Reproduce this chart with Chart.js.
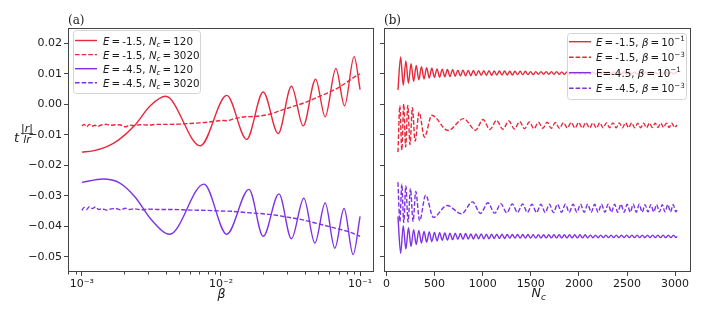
<!DOCTYPE html>
<html>
<head>
<meta charset="utf-8">
<script src="https://cdn.jsdelivr.net/npm/chart.js@4.4.0/dist/chart.umd.min.js"></script>
<style>
  html, body { margin: 0; padding: 0; background: #fff; }
  #wrap { position: relative; width: 706px; height: 316px; }
  canvas { position: absolute; top: 0; }
  #ca { left: 0; }
  #cb { left: 380px; }
</style>
</head>
<body>
<div id="wrap">
  <canvas id="ca" width="380" height="316"></canvas>
  <canvas id="cb" width="326" height="316"></canvas>
</div>
<script>
// ---- panel (a): value against beta, log axis ----
const betaSolidRed = [1.0e-3, 1.2e-3, 1.5e-3, 1.85e-3, 2.4e-3, 3.1e-3, 4.0e-3, 7.1e-3, 1.10e-2, 1.53e-2,
  2.01e-2, 2.58e-2, 3.21e-2, 3.90e-2, 4.79e-2, 5.61e-2, 6.70e-2, 7.73e-2, 9.06e-2, 1.0e-1];
const valSolidRed = [-0.0157, -0.0153, -0.0140, -0.0116, -0.0069, -0.0005, 0.0026, -0.0136, 0.0029, -0.0115,
  0.0040, -0.0096, 0.0059, -0.0071, 0.0082, -0.0041, 0.0117, -0.0005, 0.0156, 0.0048];

const betaDashRed = [1.00e-3, 1.04e-3, 1.08e-3, 1.13e-3, 1.18e-3, 1.24e-3, 1.30e-3, 1.38e-3, 1.50e-3, 1.62e-3,
  1.75e-3, 1.90e-3, 2.05e-3, 2.2e-3, 2.4e-3, 2.6e-3, 3.0e-3, 3.5e-3, 4.2e-3, 5.0e-3,
  6.0e-3, 7.0e-3, 8.0e-3, 9.0e-3, 1.0e-2, 1.1e-2, 1.25e-2, 1.45e-2, 1.7e-2, 2.0e-2,
  2.3e-2, 2.7e-2, 3.2e-2, 3.7e-2, 4.3e-2, 5.0e-2, 5.7e-2, 6.5e-2, 7.3e-2, 8.2e-2,
  9.0e-2, 1.0e-1];
const valDashRed = [-0.0071, -0.0066, -0.0074, -0.0066, -0.0072, -0.0069, -0.0073, -0.0068, -0.0066, -0.0069,
  -0.0067, -0.0068, -0.0074, -0.0069, -0.0070, -0.0067, -0.0068, -0.0066, -0.0066, -0.0065,
  -0.0063, -0.0061, -0.0059, -0.0056, -0.0053, -0.0054, -0.0047, -0.0042, -0.0040, -0.0037,
  -0.0031, -0.0020, -0.0009, 0.0000, 0.0011, 0.0024, 0.0035, 0.0047, 0.0060, 0.0075,
  0.0088, 0.0100];

const betaSolidPurple = [1.0e-3, 1.42e-3, 1.85e-3, 2.4e-3, 3.16e-3, 4.28e-3, 7.55e-3, 1.10e-2, 1.59e-2, 2.01e-2,
  2.61e-2, 3.21e-2, 3.94e-2, 4.73e-2, 5.61e-2, 6.58e-2, 7.67e-2, 8.91e-2, 1.0e-1];
const valSolidPurple = [-0.0256, -0.0245, -0.0257, -0.0303, -0.0379, -0.0426, -0.0262, -0.0426, -0.0279, -0.0433,
  -0.0294, -0.0441, -0.0308, -0.0455, -0.0324, -0.0472, -0.0342, -0.0493, -0.0368];

const betaDashPurple = [1.00e-3, 1.04e-3, 1.08e-3, 1.13e-3, 1.19e-3, 1.25e-3, 1.32e-3, 1.40e-3, 1.50e-3, 1.62e-3,
  1.75e-3, 1.9e-3, 2.05e-3, 2.2e-3, 2.4e-3, 2.7e-3, 3.0e-3, 3.5e-3, 4.5e-3, 6.0e-3,
  8.0e-3, 1.0e-2, 1.2e-2, 1.5e-2, 2.0e-2, 2.5e-2, 3.0e-2, 3.6e-2, 4.3e-2, 5.0e-2,
  6.0e-2, 7.0e-2, 8.0e-2, 9.0e-2, 1.0e-1];
const valDashPurple = [-0.0348, -0.0338, -0.0345, -0.0336, -0.0342, -0.0337, -0.0345, -0.0343, -0.0347, -0.0343,
  -0.0342, -0.0346, -0.0341, -0.0345, -0.0343, -0.0346, -0.0344, -0.0345, -0.0345, -0.0347,
  -0.0348, -0.0350, -0.0351, -0.0355, -0.0359, -0.0364, -0.0370, -0.0376, -0.0384, -0.0392,
  -0.0401, -0.0409, -0.0416, -0.0424, -0.0433];

// ---- panel (b): value against N_c ----
const nSolid = [120, 148, 175, 202, 229, 256, 283, 310, 337, 364,
  391, 418, 445, 472, 499, 526, 553, 580, 607, 634,
  661, 688, 715, 742, 769, 796, 823, 850, 877, 904,
  931, 958, 985, 1012, 1039, 1066, 1093, 1120, 1147, 1174,
  1201, 1228, 1255, 1282, 1309, 1336, 1363, 1390, 1417, 1444,
  1471, 1498, 1525, 1552, 1579, 1606, 1633, 1660, 1687, 1714,
  1741, 1768, 1795, 1822, 1849, 1876, 1903, 1930, 1957, 1984,
  2011, 2038, 2065, 2092, 2119, 2146, 2173, 2200, 2227, 2254,
  2281, 2308, 2335, 2362, 2389, 2416, 2443, 2470, 2497, 2524,
  2551, 2578, 2605, 2632, 2659, 2686, 2713, 2740, 2767, 2794,
  2821, 2848, 2875, 2902, 2929, 2956, 2983, 3010, 3020];
const valNRedHi = [0.0047, 0.0155, 0.0062, 0.0142, 0.0069, 0.0133, 0.0075, 0.0127, 0.0080, 0.0123,
  0.0083, 0.0120, 0.0086, 0.0118, 0.0088, 0.0116, 0.0089, 0.0115, 0.0090, 0.0114,
  0.0091, 0.0113, 0.0092, 0.0112, 0.0093, 0.0112, 0.0093, 0.0111, 0.0094, 0.0111,
  0.0094, 0.0110, 0.0095, 0.0110, 0.0095, 0.0110, 0.0095, 0.0109, 0.0096, 0.0109,
  0.0096, 0.0109, 0.0096, 0.0108, 0.0096, 0.0108, 0.0097, 0.0108, 0.0097, 0.0108,
  0.0097, 0.0107, 0.0097, 0.0107, 0.0098, 0.0107, 0.0098, 0.0107, 0.0098, 0.0107,
  0.0098, 0.0107, 0.0098, 0.0106, 0.0098, 0.0106, 0.0098, 0.0106, 0.0098, 0.0106,
  0.0098, 0.0106, 0.0098, 0.0106, 0.0098, 0.0106, 0.0098, 0.0106, 0.0099, 0.0106,
  0.0099, 0.0106, 0.0099, 0.0106, 0.0099, 0.0106, 0.0099, 0.0106, 0.0099, 0.0106,
  0.0099, 0.0105, 0.0099, 0.0105, 0.0099, 0.0105, 0.0099, 0.0105, 0.0099, 0.0105,
  0.0099, 0.0105, 0.0099, 0.0105, 0.0099, 0.0105, 0.0099, 0.0105, 0.0101];
const valNPurpleHi = [-0.0368, -0.0489, -0.0398, -0.0475, -0.0405, -0.0466, -0.0411, -0.0460, -0.0414, -0.0455,
  -0.0417, -0.0452, -0.0419, -0.0450, -0.0420, -0.0448, -0.0421, -0.0446, -0.0422, -0.0445,
  -0.0423, -0.0444, -0.0423, -0.0443, -0.0424, -0.0443, -0.0424, -0.0442, -0.0425, -0.0442,
  -0.0425, -0.0441, -0.0425, -0.0441, -0.0426, -0.0441, -0.0426, -0.0440, -0.0426, -0.0440,
  -0.0426, -0.0440, -0.0427, -0.0439, -0.0427, -0.0439, -0.0427, -0.0439, -0.0427, -0.0439,
  -0.0427, -0.0439, -0.0428, -0.0439, -0.0428, -0.0438, -0.0428, -0.0438, -0.0428, -0.0438,
  -0.0428, -0.0438, -0.0428, -0.0438, -0.0428, -0.0438, -0.0428, -0.0438, -0.0428, -0.0438,
  -0.0428, -0.0438, -0.0428, -0.0438, -0.0429, -0.0438, -0.0429, -0.0438, -0.0429, -0.0437,
  -0.0429, -0.0437, -0.0429, -0.0437, -0.0429, -0.0437, -0.0429, -0.0437, -0.0429, -0.0437,
  -0.0429, -0.0437, -0.0429, -0.0437, -0.0429, -0.0437, -0.0429, -0.0437, -0.0429, -0.0437,
  -0.0429, -0.0437, -0.0429, -0.0437, -0.0429, -0.0437, -0.0429, -0.0437, -0.0433];

const nDashRed = [120, 140, 160, 180, 200, 222, 245, 270, 298, 340,
  395, 472, 640, 803, 925, 1005, 1075, 1145, 1210, 1272,
  1330, 1385, 1435, 1485, 1533, 1580, 1625, 1670, 1713, 1756,
  1798, 1840, 1880, 1920, 1960, 1998, 2036, 2073, 2110, 2146,
  2182, 2217, 2252, 2286, 2320, 2354, 2387, 2420, 2453, 2485,
  2517, 2549, 2580, 2611, 2642, 2673, 2703, 2733, 2763, 2793,
  2822, 2851, 2880, 2909, 2938, 2966, 2994, 3020];
const valNRedLo = [-0.0157, -0.0005, -0.0150, 0.0001, -0.0140, -0.0004, -0.0132, -0.0011, -0.0121, -0.0026,
  -0.0108, -0.0036, -0.0086, -0.0047, -0.0085, -0.0050, -0.0083, -0.0053, -0.0082, -0.0055,
  -0.0081, -0.0057, -0.0080, -0.0058, -0.0080, -0.0059, -0.0079, -0.0059, -0.0079, -0.0060,
  -0.0079, -0.0060, -0.0078, -0.0060, -0.0078, -0.0060, -0.0078, -0.0060, -0.0078, -0.0061,
  -0.0078, -0.0061, -0.0077, -0.0061, -0.0077, -0.0061, -0.0077, -0.0061, -0.0077, -0.0061,
  -0.0077, -0.0061, -0.0077, -0.0062, -0.0077, -0.0062, -0.0077, -0.0062, -0.0076, -0.0062,
  -0.0076, -0.0062, -0.0076, -0.0062, -0.0076, -0.0062, -0.0076, -0.0068];

const nDashPurple = [120, 140, 160, 180, 202, 225, 250, 277, 305, 345,
  408, 488, 630, 780, 895, 978, 1055, 1125, 1190, 1250,
  1308, 1362, 1415, 1465, 1513, 1560, 1605, 1650, 1693, 1736,
  1778, 1820, 1860, 1900, 1940, 1979, 2017, 2055, 2092, 2128,
  2164, 2200, 2235, 2270, 2304, 2338, 2371, 2404, 2437, 2470,
  2502, 2534, 2565, 2596, 2627, 2658, 2688, 2718, 2748, 2778,
  2808, 2837, 2866, 2895, 2924, 2952, 2980, 3008, 3020];
const valNPurpleLo = [-0.0256, -0.0385, -0.0262, -0.0388, -0.0268, -0.0386, -0.0276, -0.0384, -0.0286, -0.0382,
  -0.0298, -0.0371, -0.0332, -0.0359, -0.0320, -0.0358, -0.0323, -0.0357, -0.0326, -0.0356,
  -0.0327, -0.0355, -0.0327, -0.0355, -0.0328, -0.0355, -0.0328, -0.0355, -0.0328, -0.0355,
  -0.0328, -0.0354, -0.0328, -0.0354, -0.0328, -0.0354, -0.0328, -0.0354, -0.0328, -0.0354,
  -0.0328, -0.0354, -0.0328, -0.0354, -0.0328, -0.0354, -0.0328, -0.0354, -0.0328, -0.0354,
  -0.0328, -0.0354, -0.0328, -0.0354, -0.0328, -0.0354, -0.0329, -0.0353, -0.0329, -0.0353,
  -0.0329, -0.0353, -0.0329, -0.0353, -0.0329, -0.0353, -0.0329, -0.0353, -0.0345];

// ---- ticks ----
const yTicks = [-0.05, -0.04, -0.03, -0.02, -0.01, 0.00, 0.01, 0.02];
const betaTicks = [1e-3, 1e-2, 1e-1];
const betaTickLabels = ['10\u207B\u00B3', '10\u207B\u00B2', '10\u207B\u00B9'];
const betaMinorTicks = [8e-4, 9e-4, 2e-3, 3e-3, 4e-3, 5e-3, 6e-3, 7e-3, 8e-3, 9e-3,
  2e-2, 3e-2, 4e-2, 5e-2, 6e-2, 7e-2, 8e-2, 9e-2];
const nTicks = [0, 500, 1000, 1500, 2000, 2500, 3000];

const red = '#e8283c';
const purple = '#7e32e4';
const frame = '#444';
const txt = '#1a1a1a';
const FONT = '"DejaVu Sans", sans-serif';

Chart.defaults.font.family = FONT;
Chart.defaults.font.size = 11;
Chart.defaults.color = txt;

function pts(xs, ys) { return xs.map((x, i) => ({ x: x, y: ys[i] })); }
function series(xs, ys, color, dashed, order) {
  return {
    data: pts(xs, ys), borderColor: color, borderWidth: 1.4,
    borderDash: dashed ? [4.6, 2] : [], pointRadius: 0, fill: false,
    cubicInterpolationMode: 'monotone', order: order
  };
}
function fmtY(v) {
  const r = Math.round(v * 100) / 100;
  return (r < 0 ? '\u2212' : '') + Math.abs(r).toFixed(2);
}

function drawRich(ctx, x, y, segs, size) {
  for (const s of segs) {
    const small = s.sub || s.sup;
    const fs = small ? size * 0.7 : size;
    ctx.font = (s.it ? 'italic ' : '') + fs + 'px ' + FONT;
    const dy = s.sub ? size * 0.22 : (s.sup ? -size * 0.42 : 0);
    ctx.fillText(s.t, x, y + dy);
    x += ctx.measureText(s.t).width;
  }
  return x;
}

function drawLegend(ctx, box, rows) {
  ctx.save();
  ctx.beginPath();
  ctx.roundRect(box.x + 0.5, box.y + 0.5, box.w, box.h, 3);
  ctx.fillStyle = 'rgba(255,255,255,0.8)';
  ctx.fill();
  ctx.strokeStyle = '#d4d4d4';
  ctx.lineWidth = 1;
  ctx.stroke();
  rows.forEach((r, i) => {
    const cy = box.rowY + i * box.step;
    ctx.beginPath();
    ctx.strokeStyle = r.color;
    ctx.lineWidth = 1.4;
    ctx.setLineDash(r.dash ? [4.6, 2] : []);
    ctx.moveTo(box.lx0, cy);
    ctx.lineTo(box.lx1, cy);
    ctx.stroke();
    ctx.setLineDash([]);
    ctx.fillStyle = txt;
    ctx.textBaseline = 'alphabetic';
    ctx.textAlign = 'left';
    drawRich(ctx, box.tx, cy + 4, r.segs, 10.3);
  });
  ctx.restore();
}

function drawFrame(chart) {
  const { ctx, chartArea: a } = chart;
  ctx.save();
  ctx.strokeStyle = frame;
  ctx.lineWidth = 1;
  ctx.strokeRect(Math.round(a.left) + 0.5, Math.round(a.top) + 0.5,
    Math.round(a.right - a.left) - 1, Math.round(a.bottom - a.top) - 1);
  ctx.restore();
}

const sp = '\u2009';
const legendA = [
  { color: red, dash: false, segs: [{ t: 'E', it: 1 }, { t: sp + '=' + sp + '-1.5, ' }, { t: 'N', it: 1 }, { t: 'c', it: 1, sub: 1 }, { t: sp + '=' + sp + '120' }] },
  { color: red, dash: true, segs: [{ t: 'E', it: 1 }, { t: sp + '=' + sp + '-1.5, ' }, { t: 'N', it: 1 }, { t: 'c', it: 1, sub: 1 }, { t: sp + '=' + sp + '3020' }] },
  { color: purple, dash: false, segs: [{ t: 'E', it: 1 }, { t: sp + '=' + sp + '-4.5, ' }, { t: 'N', it: 1 }, { t: 'c', it: 1, sub: 1 }, { t: sp + '=' + sp + '120' }] },
  { color: purple, dash: true, segs: [{ t: 'E', it: 1 }, { t: sp + '=' + sp + '-4.5, ' }, { t: 'N', it: 1 }, { t: 'c', it: 1, sub: 1 }, { t: sp + '=' + sp + '3020' }] }
];
const legendB = [
  { color: red, dash: false, segs: [{ t: 'E', it: 1 }, { t: sp + '=' + sp + '-1.5, ' }, { t: '\u03B2', it: 1 }, { t: sp + '=' + sp + '10' }, { t: '\u22121', sup: 1 }] },
  { color: red, dash: true, segs: [{ t: 'E', it: 1 }, { t: sp + '=' + sp + '-1.5, ' }, { t: '\u03B2', it: 1 }, { t: sp + '=' + sp + '10' }, { t: '\u22123', sup: 1 }] },
  { color: purple, dash: false, segs: [{ t: 'E=-4.5, ' }, { t: '\u03B2', it: 1 }, { t: sp + '=' + sp + '10' }, { t: '\u22121', sup: 1 }] },
  { color: purple, dash: true, segs: [{ t: 'E', it: 1 }, { t: sp + '=' + sp + '-4.5, ' }, { t: '\u03B2', it: 1 }, { t: sp + '=' + sp + '10' }, { t: '\u22123', sup: 1 }] }
];

function yScale(showLabels, width) {
  return {
    type: 'linear', min: -0.055, max: 0.025,
    afterBuildTicks: s => { s.ticks = yTicks.map(v => ({ value: v })); },
    afterFit: s => { s.width = width; },
    grid: { drawOnChartArea: false, drawTicks: true, tickLength: 4, color: frame, tickColor: frame },
    border: { display: false },
    ticks: { callback: v => showLabels ? fmtY(v) : '', padding: 2, color: txt, font: { size: 11 } }
  };
}

// panel (a)
new Chart(document.getElementById('ca'), {
  type: 'line',
  data: {
    datasets: [
      series(betaSolidRed, valSolidRed, red, false, 3),
      series(betaDashRed, valDashRed, red, true, 2),
      series(betaSolidPurple, valSolidPurple, purple, false, 1),
      series(betaDashPurple, valDashPurple, purple, true, 0)
    ]
  },
  options: {
    responsive: false, animation: false, devicePixelRatio: 1,
    layout: { padding: { left: 0, top: 28, right: 6, bottom: 0 } },
    plugins: { legend: { display: false }, tooltip: { enabled: false } },
    scales: {
      x: {
        type: 'logarithmic', min: 7.943e-4, max: 0.1259,
        afterBuildTicks: s => { s.ticks = betaTicks.map(v => ({ value: v })); },
        afterFit: s => { s.height = 44; },
        grid: { drawOnChartArea: false, drawTicks: true, tickLength: 4, color: frame, tickColor: frame },
        border: { display: false },
        ticks: { autoSkip: false, maxRotation: 0, padding: 2, color: txt, font: { size: 11 },
          callback: (v, i) => betaTickLabels[i] }
      },
      y: yScale(true, 68)
    }
  },
  plugins: [{
    id: 'decorA',
    afterDraw(chart) {
      const { ctx, chartArea: a } = chart;
      drawFrame(chart);
      const xs = chart.scales.x;
      ctx.save();
      ctx.strokeStyle = frame;
      ctx.lineWidth = 1;
      betaMinorTicks.forEach(v => {
        const px = Math.round(xs.getPixelForValue(v)) + 0.5;
        ctx.beginPath();
        ctx.moveTo(px, a.bottom);
        ctx.lineTo(px, a.bottom + 2.5);
        ctx.stroke();
      });
      ctx.fillStyle = txt;
      ctx.font = '12px "DejaVu Serif", serif';
      ctx.textAlign = 'left';
      ctx.fillText('(a)', 68, 24);
      // x title
      ctx.font = 'italic 12.5px ' + FONT;
      ctx.textAlign = 'center';
      ctx.fillText('\u03B2', (a.left + a.right) / 2 + 0.5, 298);
      // y title: t |r| / lr
      ctx.textAlign = 'left';
      ctx.font = 'italic 13px ' + FONT;
      ctx.fillText('t', 14, 142);
      ctx.textAlign = 'center';
      ctx.font = 'italic 11px ' + FONT;
      ctx.fillText('|r|', 27, 131.5);
      ctx.fillText('lr', 27, 142.5);
      ctx.beginPath();
      ctx.lineWidth = 0.9;
      ctx.moveTo(21, 133.5);
      ctx.lineTo(33, 133.5);
      ctx.stroke();
      ctx.restore();
      drawLegend(ctx, { x: 73, y: 30, w: 127, h: 63, rowY: 40.5, step: 14.1, lx0: 75, lx1: 97, tx: 103 }, legendA);
    }
  }]
});

// panel (b)
new Chart(document.getElementById('cb'), {
  type: 'line',
  data: {
    datasets: [
      series(nSolid, valNRedHi, red, false, 3),
      series(nDashRed, valNRedLo, red, true, 2),
      series(nSolid, valNPurpleHi, purple, false, 1),
      series(nDashPurple, valNPurpleLo, purple, true, 0)
    ]
  },
  options: {
    responsive: false, animation: false, devicePixelRatio: 1,
    layout: { padding: { left: 0, top: 28, right: 15, bottom: 0 } },
    plugins: { legend: { display: false }, tooltip: { enabled: false } },
    scales: {
      x: {
        type: 'linear', min: -25, max: 3165,
        afterBuildTicks: s => { s.ticks = nTicks.map(v => ({ value: v })); },
        afterFit: s => { s.height = 44; },
        grid: { drawOnChartArea: false, drawTicks: true, tickLength: 4, color: frame, tickColor: frame },
        border: { display: false },
        ticks: { autoSkip: false, maxRotation: 0, padding: 2, color: txt, font: { size: 11 },
          callback: v => String(v) }
      },
      y: yScale(false, 4)
    }
  },
  plugins: [{
    id: 'decorB',
    afterDraw(chart) {
      const { ctx, chartArea: a } = chart;
      drawFrame(chart);
      ctx.save();
      ctx.fillStyle = txt;
      ctx.font = '12px "DejaVu Serif", serif';
      ctx.textAlign = 'left';
      ctx.fillText('(b)', 4, 24);
      ctx.font = 'italic 12.5px ' + FONT;
      const cx = (a.left + a.right) / 2;
      ctx.fillText('N', cx - 6, 297);
      ctx.font = 'italic 9px ' + FONT;
      ctx.fillText('c', cx + 3.5, 300);
      ctx.restore();
      drawLegend(ctx, { x: 187, y: 33, w: 119, h: 66, rowY: 41.7, step: 15.5, lx0: 189, lx1: 211, tx: 216 }, legendB);
    }
  }]
});
</script>
</body>
</html>
